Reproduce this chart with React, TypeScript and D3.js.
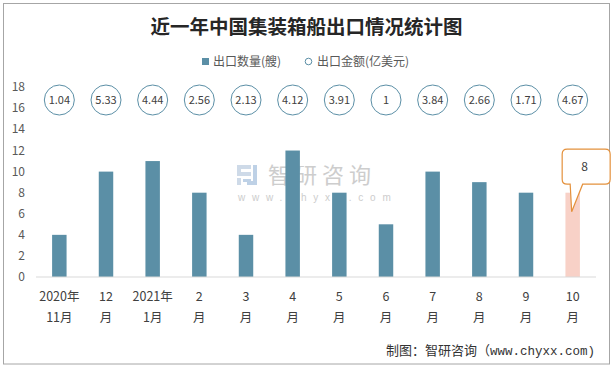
import React from "react";
import * as d3 from "d3";

const catLine1 = ["2020年", "12", "2021年", "2", "3", "4", "5", "6", "7", "8", "9", "10"];
const catLine2 = ["11月", "月", "1月", "月", "月", "月", "月", "月", "月", "月", "月", "月"];
const exportCount = [4, 10, 11, 8, 4, 12, 8, 5, 10, 9, 8, 8];
const exportValue = ["1.04", "5.33", "4.44", "2.56", "2.13", "4.12", "3.91", "1", "3.84", "2.66", "1.71", "4.67"];
const yTicks = [0, 2, 4, 6, 8, 10, 12, 14, 16, 18];

const W = 615;
const H = 368;
const CJK = "'Microsoft YaHei', 'Noto Sans CJK SC', sans-serif";
const BAR = "#5b8fa6";
const PINK = "#f8d1c7";
const ORANGE = "#e4913c";

export default function App() {
  const idx = exportCount.map((_, i) => i);
  const x = d3.scaleBand<number>().domain(idx).range([36, 596]).paddingInner(0.69).paddingOuter(0.345);
  const y = d3.scaleLinear().domain([0, 18]).range([277, 87.3]);
  const bw = x.bandwidth();
  const last = idx.length - 1;
  const lcx = (x(last) as number) + bw / 2;
  const ly = y(exportCount[last]);

  // callout shape around last bar
  const bl = lcx - 10.5, br = lcx + 37.5, bt = ly - 43.5, bb = ly - 8.5, r = 5;
  const calloutPath = [
    `M${bl + r},${bt}`,
    `L${br - r},${bt}`,
    `Q${br},${bt} ${br},${bt + r}`,
    `L${br},${bb - r}`,
    `Q${br},${bb} ${br - r},${bb}`,
    `L${lcx + 10},${bb}`,
    `L${lcx - 1},${ly + 19}`,
    `L${lcx - 2.5},${bb}`,
    `L${bl + r},${bb}`,
    `Q${bl},${bb} ${bl},${bb - r}`,
    `L${bl},${bt + r}`,
    `Q${bl},${bt} ${bl + r},${bt}`,
    "Z",
  ].join(" ");

  return (
    <svg width={W} height={H} style={{ position: "absolute", left: 0, top: 0, background: "#fff" }}>
      <rect x={3.5} y={3.5} width={606} height={360.5} fill="#fff" stroke="#a6a6a6" strokeWidth={1} />

      <text x={306.5} y={34} textAnchor="middle" fontFamily={CJK} fontWeight="bold" fontSize={19.5} fill="#262626">
        近一年中国集装箱船出口情况统计图
      </text>

      {/* legend */}
      <rect x={202} y={58} width={7} height={7} fill={BAR} />
      <text x={213} y={65.5} fontFamily={CJK} fontSize={12} fill="#595959">出口数量(艘)</text>
      <circle cx={308.5} cy={61.5} r={3.3} fill="#fff" stroke={BAR} strokeWidth={1} />
      <text x={317} y={65.5} fontFamily={CJK} fontSize={12} fill="#595959">出口金额(亿美元)</text>

      {/* y axis labels */}
      {yTicks.map((t) => (
        <text key={t} x={25} y={y(t) + 4} textAnchor="end" fontFamily={CJK} fontSize={12} fill="#595959">
          {t}
        </text>
      ))}

      {/* watermark */}
      <g opacity={0.9}>
        <path d="M237,165 h14 v4 h-10 v3 h10 v4 h-14 Z" fill="#c9d6e6" />
        <path d="M237,178 h4 v7 h-4 Z" fill="#c9d6e6" />
        <path d="M253,165 h4 v20 h-10 v-4 h6 Z" fill="#b7cde4" />
        <path d="M243,179 h8 v3 h-8 Z" fill="#b7cde4" />
        <text x={268} y={183} fontFamily={CJK} fontSize={22} fill="#c8c8c8" letterSpacing={5}>智研咨询</text>
        <text x={238} y={201} fontFamily="Arial, 'Liberation Sans', sans-serif" fontSize={10} fill="#c8c8c8" letterSpacing={6.8}>www.chyxx.com</text>
      </g>

      {/* bars */}
      {exportCount.map((v, i) => (
        <rect
          key={i}
          x={x(i)}
          y={y(v)}
          width={bw}
          height={y(0) - y(v)}
          fill={i === last ? PINK : BAR}
        />
      ))}

      {/* axis line */}
      <line x1={36} x2={596} y1={277} y2={277} stroke="#d9d9d9" strokeWidth={1} />

      {/* value circles */}
      {exportValue.map((v, i) => {
        const cx = (x(i) as number) + bw / 2;
        return (
          <g key={i}>
            <circle cx={cx} cy={100} r={15} fill="#fff" stroke={BAR} strokeWidth={1} />
            <text x={cx} y={104} textAnchor="middle" fontFamily={CJK} fontSize={11} fill="#404040">{v}</text>
          </g>
        );
      })}

      {/* callout */}
      <path d={calloutPath} fill="#fff" stroke={ORANGE} strokeWidth={1.2} />
      <text x={lcx + 12} y={ly - 22} textAnchor="middle" fontFamily={CJK} fontSize={12} fill="#404040">
        {exportCount[last]}
      </text>

      {/* category labels */}
      {idx.map((i) => {
        const cx = (x(i) as number) + bw / 2;
        return (
          <g key={i}>
            <text x={cx} y={300.5} textAnchor="middle" fontFamily={CJK} fontSize={12.5} fill="#404040">{catLine1[i]}</text>
            <text x={cx} y={321.5} textAnchor="middle" fontFamily={CJK} fontSize={12.5} fill="#404040">{catLine2[i]}</text>
          </g>
        );
      })}

      {/* footer */}
      <text x={386} y={355} fontSize={13} fill="#333">
        <tspan fontFamily={CJK}>制图：智研咨询（</tspan>
        <tspan fontFamily="'Liberation Mono', 'DejaVu Sans Mono', monospace" fontSize={12.5}>www.chyxx.com)</tspan>
      </text>
    </svg>
  );
}
